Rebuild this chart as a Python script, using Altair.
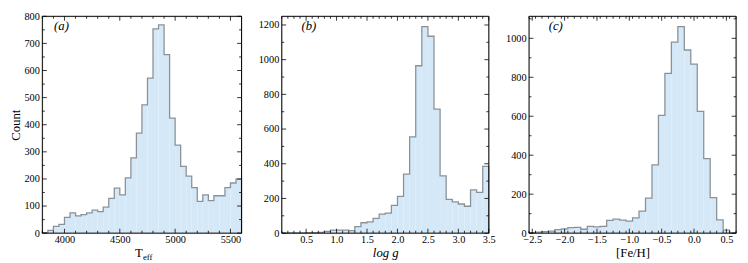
import altair as alt
import numpy as np
import pandas as pd

# ---------------- data ----------------
# (a) Teff histogram: bins of 50 K starting at 3800 K
teff_start, teff_binw = 3800, 50
teff_counts = [2, 10, 25, 32, 58, 75, 64, 68, 75, 85, 79, 96, 128, 166, 141, 204,
               278, 369, 473, 572, 754, 768, 659, 424, 325, 246, 210, 168, 117, 141,
               120, 138, 138, 168, 185, 199]
# (b) log g histogram: bins of 0.1 dex starting at 0.1
logg_start, logg_binw = 0.1, 0.1
logg_counts = [0, 1, 1, 2, 3, 3, 5, 10, 18, 18, 18, 15, 38, 60, 65, 85, 110, 115,
               160, 212, 340, 555, 965, 1190, 1135, 715, 330, 195, 180, 168, 155,
               250, 235, 385]
# (c) [Fe/H] histogram: bins of 0.1 dex starting at -2.55
feh_start, feh_binw = -2.55, 0.1
feh_counts = [3, 5, 8, 10, 18, 22, 28, 30, 20, 35, 32, 35, 65, 72, 67, 62, 78, 113,
              180, 350, 605, 820, 980, 1060, 940, 868, 625, 383, 182, 68, 15, 1]

teff_ticks = [4000, 4500, 5000, 5500]
logg_ticks = [0.5, 1.0, 1.5, 2.0, 2.5, 3.0, 3.5]
feh_ticks = [-2.5, -2.0, -1.5, -1.0, -0.5, 0.0, 0.5]
count_ticks_a = [0, 100, 200, 300, 400, 500, 600, 700, 800]
count_ticks_b = [0, 200, 400, 600, 800, 1000, 1200]
count_ticks_c = [0, 200, 400, 600, 800, 1000]

FILL = "#d5e8f7"
EDGE = "#8a9299"
FONT = "Liberation Serif"
MAJ, MINL = 4.5, 2.5


def step_frame(start, binw, counts):
    n = len(counts)
    edges = [round(start + binw * k, 4) for k in range(n + 1)]
    xs = [edges[0]] + edges[:n] + [edges[n], edges[n]]
    ys = [0] + list(counts) + [counts[-1], 0]
    return pd.DataFrame({"x": xs, "y": ys, "o": list(range(len(xs)))})


def minor_list(lo, hi, step, majors):
    vals = np.round(np.arange(lo, hi + step / 2, step), 4)
    return [float(v) for v in vals if not any(abs(v - m) < 1e-6 for m in majors)]


def panel(start, binw, counts, xdom, ydom, xticks, xminor_step, yticks, yminor_step,
          w, h, xfmt, xtitle, ytitle, tag, tag_dx, italic_title):
    df = step_frame(start, binw, counts)
    xscale = alt.Scale(domain=xdom, nice=False, zero=False)
    yscale = alt.Scale(domain=ydom, nice=False, zero=False)
    xaxis_kw = dict(values=xticks, format=xfmt, ticks=False, domain=False, grid=False,
                    labelPadding=2, labelFont=FONT, labelFontSize=10.5,
                    labelColor="black", titleFont=FONT, titleFontSize=13,
                    titleFontWeight="normal", titleColor="black", titlePadding=1,
                    labelFlush=False)
    if italic_title:
        xaxis_kw["titleFontStyle"] = "italic"
    xaxis = alt.Axis(**xaxis_kw)
    yaxis = alt.Axis(values=yticks, format="d", ticks=False, domain=False, grid=False,
                     labelPadding=3, labelFont=FONT, labelFontSize=10.5,
                     labelColor="black", titleFont=FONT, titleFontSize=13,
                     titleFontWeight="normal", titleColor="black", titlePadding=2)

    def X(field):
        return alt.X(f"{field}:Q", scale=xscale, axis=xaxis, title=xtitle)

    def Y(field):
        return alt.Y(f"{field}:Q", scale=yscale, axis=yaxis, title=ytitle)

    base = alt.Chart(df)
    area = base.mark_area(interpolate="step-after", color=FILL, opacity=1).encode(
        x=X("x"), y=Y("y"), order="o:Q")
    line = base.mark_line(interpolate="step-after", color=EDGE, strokeWidth=1.3).encode(
        x=X("x"), y=Y("y"), order="o:Q")

    xmin_vals = minor_list(xdom[0], xdom[1], xminor_step, xticks)
    ymin_vals = minor_list(ydom[0], ydom[1], yminor_step, yticks)
    xmaj_df = pd.DataFrame({"v": [t for t in xticks if xdom[0] <= t <= xdom[1]]})
    xmin_df = pd.DataFrame({"v": [t for t in xmin_vals if xdom[0] <= t <= xdom[1]]})
    ymaj_df = pd.DataFrame({"v": [t for t in yticks if ydom[0] <= t <= ydom[1]]})
    ymin_df = pd.DataFrame({"v": [t for t in ymin_vals if ydom[0] <= t <= ydom[1]]})

    layers = [area, line]
    for d, L in ((xmaj_df, MAJ), (xmin_df, MINL)):
        layers.append(alt.Chart(d).mark_rule(color="black", strokeWidth=0.8).encode(
            x=X("v"), y=alt.value(h), y2=alt.value(h - L)))
        layers.append(alt.Chart(d).mark_rule(color="black", strokeWidth=0.8).encode(
            x=X("v"), y=alt.value(0), y2=alt.value(L)))
    for d, L in ((ymaj_df, MAJ), (ymin_df, MINL)):
        layers.append(alt.Chart(d).mark_rule(color="black", strokeWidth=0.8).encode(
            y=Y("v"), x=alt.value(0), x2=alt.value(L)))
        layers.append(alt.Chart(d).mark_rule(color="black", strokeWidth=0.8).encode(
            y=Y("v"), x=alt.value(w), x2=alt.value(w - L)))

    # frame
    frame_df = pd.DataFrame({"k": [0]})
    layers.append(alt.Chart(frame_df).mark_rect(fill=None, stroke="black", strokeWidth=1).encode(
        x=alt.value(0), x2=alt.value(w), y=alt.value(0), y2=alt.value(h)))

    # panel tag
    tag_df = pd.DataFrame({"t": [tag]})
    layers.append(alt.Chart(tag_df).mark_text(
        align="left", baseline="middle", font=FONT, fontSize=13, fontStyle="italic",
        color="black").encode(x=alt.value(tag_dx), y=alt.value(10), text="t:N"))

    return alt.layer(*layers).properties(width=w, height=h)


H = 221
WA = 203
pa = panel(teff_start, teff_binw, teff_counts, [3800, 5600], [0, 800], teff_ticks, 100,
           count_ticks_a, 50, WA, H, "d", None, "Count", "(a)", 12, False)
# Subscripted T_eff title drawn as text
ta = alt.Chart(pd.DataFrame({"t": ["T"]})).mark_text(
    align="right", baseline="alphabetic", font=FONT, fontSize=13, color="black").encode(
    x=alt.value(WA / 2 + 1), y=alt.value(H + 24), text="t:N")
tb = alt.Chart(pd.DataFrame({"t": ["eff"]})).mark_text(
    align="left", baseline="alphabetic", font=FONT, fontSize=9, color="black").encode(
    x=alt.value(WA / 2 + 1), y=alt.value(H + 27), text="t:N")
pa = alt.layer(pa, ta, tb)

pb = panel(logg_start, logg_binw, logg_counts, [0.1, 3.5], [0, 1250], logg_ticks, 0.1,
           count_ticks_b, 100, 211, H, ".1f", "log g", None, "(b)", 20, True)
pc = panel(feh_start, feh_binw, feh_counts, [-2.55, 0.65], [0, 1113], feh_ticks, 0.1,
           count_ticks_c, 100, 211, H, ".1f", "[Fe/H]", None, "(c)", 20, False)

chart = alt.hconcat(pa, pb, pc, spacing=41, bounds="flush").properties(
    padding=0, background="white"
).configure_view(stroke=None).configure(font=FONT).configure_axis(
    labelFont=FONT, titleFont=FONT)

chart.save("out.html", embed_options={"renderer": "svg", "actions": False})
